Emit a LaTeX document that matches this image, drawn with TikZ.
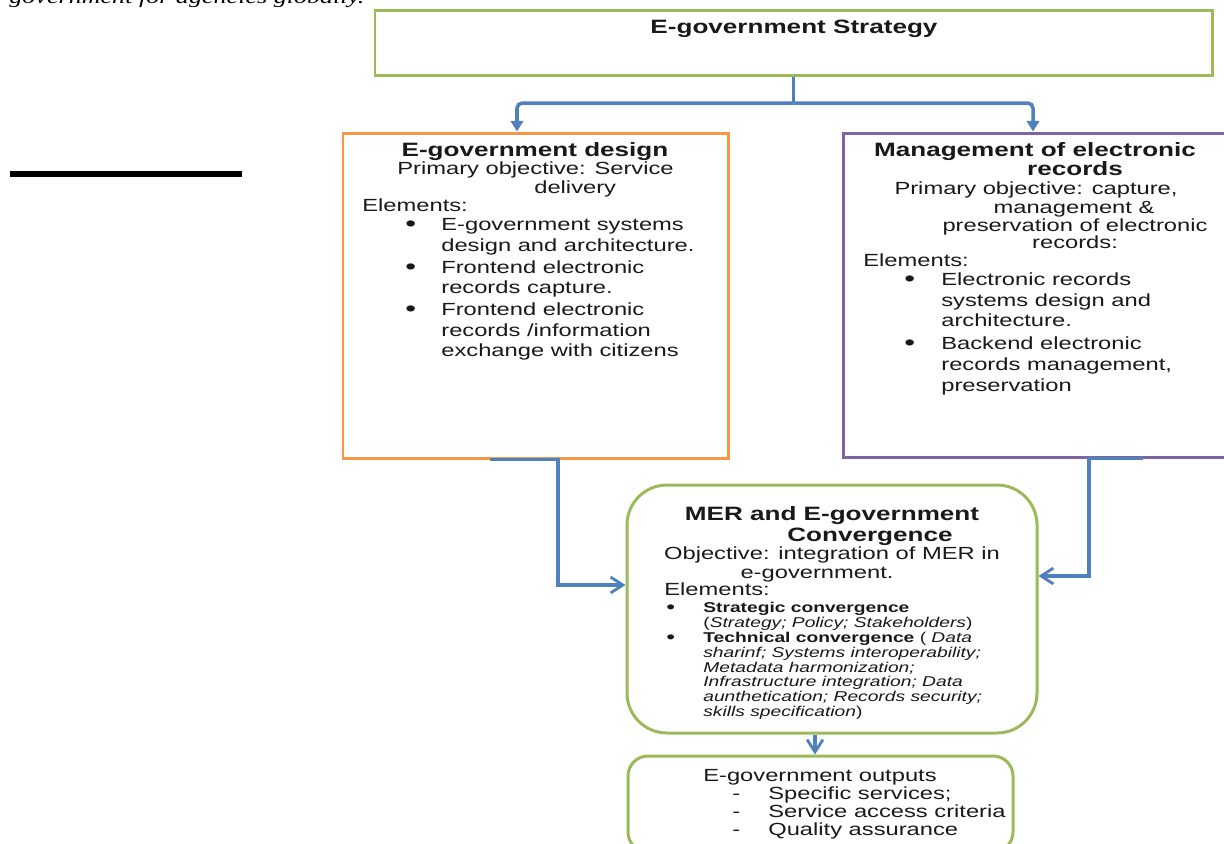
\documentclass[tikz,border=0pt]{standalone}
\usepackage{fontspec}
\setmainfont{Liberation Sans}[FakeStretch=1.35]
\newfontfamily\cutserif{Liberation Serif}[FakeStretch=1.35]
\usetikzlibrary{arrows.meta,fit,calc}

\definecolor{boxgreen}{RGB}{155,187,89}
\definecolor{boxorange}{RGB}{247,150,70}
\definecolor{boxpurple}{RGB}{128,100,162}
\definecolor{connblue}{RGB}{79,129,189}
\definecolor{txtcol}{RGB}{25,25,25}

\newcommand\Ctx[4]{\node[#1,anchor=base] (#2) at (#3) {#4};}
\newcommand\Ltx[4]{\node[#1,anchor=base west] (#2) at (#3) {#4};}
\newcommand\bul[1]{\makebox[#1][l]{\smash{\raisebox{-0.6pt}{\scalebox{1.3}{\textbullet}}}}}
\newcommand\dsh[1]{\makebox[#1][l]{-}}

\tikzset{
  frame/.style={draw, line width=1.7pt, inner sep=0pt},
  conn/.style={draw=connblue, line width=2pt},
  tfill/.style={-{Triangle[length=6pt,width=7pt]}},
  openv/.style={-{Straight Barb[length=7pt,width=9pt,line width=1.6pt]}},
  body/.style={inner sep=0pt, text=txtcol, font=\fontsize{10}{12}\selectfont},
  head/.style={inner sep=0pt, text=txtcol, font=\fontsize{11}{13}\selectfont\bfseries},
  small/.style={inner sep=0pt, text=txtcol, font=\fontsize{8.1}{9.5}\selectfont},
}

\begin{document}
\begin{tikzpicture}[x=0.02cm,y=-0.02cm]
\useasboundingbox (0,0) rectangle (1224,843);
\clip (0,0) rectangle (1224,843);
\fill[white] (0,0) rectangle (1224,843);

% cut-off text line at the top
\node[inner sep=0pt, anchor=base west, font=\cutserif\itshape\fontsize{11}{13}\selectfont] (cut) at (9,3) {government for agencies globally.};

% black rule at left
\draw[line width=3.3pt] (10,174) -- (242,174);

% boxes
\node[frame, draw=boxgreen, fit={(375,10) (1212,75)}] (strategy) {};
\node[frame, draw=boxorange, fit={(343,133) (728,458)}] (design) {};
\node[frame, draw=boxpurple, fit={(843,133) (1260,457)}] (records) {};
\node[frame, draw=boxgreen, rounded corners=0.8cm, fit={(627,485) (1037,733)}] (conv) {};
\node[frame, draw=boxgreen, rounded corners=0.4cm, fit={(628,756) (1013,852)}] (outputs) {};

% connectors
\coordinate (brL) at (517,103);
\coordinate (brR) at (1033,103);
\draw[conn] (strategy.south) -- (strategy.south |- brL);
\draw[conn, tfill, rounded corners=3pt] (strategy.south |- brL) -- (brL) -- (brL |- design.north);
\draw[conn, tfill, rounded corners=3pt] (strategy.south |- brR) -- (brR) -- (brR |- records.north);

\coordinate (dA) at (490,458);
\coordinate (dB) at (558,458);
\coordinate (dC) at (558,585);
\draw[conn, openv] (dA |- design.south) -- (dB |- design.south) -- (dC) -- (dC -| conv.west);

\coordinate (rA) at (1143,457);
\coordinate (rB) at (1089,457);
\coordinate (rC) at (1089,576);
\draw[conn, openv] (rA |- records.south) -- (rB |- records.south) -- (rC) -- (rC -| conv.east);

\coordinate (mX) at (815,0);
\draw[conn, openv] (mX |- conv.south) -- (mX |- outputs.north);

% top box text
\Ctx{head}{t1}{794,33}{E-government Strategy}

% left box text
\Ctx{head}{d1}{535,156}{E-government design}
\Ctx{body}{d2}{535.5,174}{Primary objective: Service}
\Ltx{body}{d3}{534,193}{delivery}
\Ltx{body}{d4}{362,211}{Elements:}
\Ltx{body}{d5}{405,230}{\bul{0.72cm}E-government systems}
\Ltx{body}{d6}{441,251}{design and architecture.}
\Ltx{body}{d7}{405,273}{\bul{0.72cm}Frontend electronic}
\Ltx{body}{d8}{441,293}{records capture.}
\Ltx{body}{d9}{405,315}{\bul{0.72cm}Frontend electronic}
\Ltx{body}{d10}{441,336}{records /information}
\Ltx{body}{d11}{441,356}{exchange with citizens}

% right box text
\Ctx{head}{r1}{1035,156}{Management of electronic}
\Ctx{head}{r2}{1075,175}{records}
\Ctx{body}{r3}{1036,194}{Primary objective: capture,}
\Ctx{body}{r4}{1074,213}{management \&}
\Ctx{body}{r5}{1075,231}{preservation of electronic}
\Ctx{body}{r6}{1075,248}{records:}
\Ltx{body}{r7}{863,266}{Elements:}
\Ltx{body}{r8}{904,285}{\bul{0.74cm}Electronic records}
\Ltx{body}{r9}{941,306}{systems design and}
\Ltx{body}{r10}{941,326}{architecture.}
\Ltx{body}{r11}{904,349}{\bul{0.74cm}Backend electronic}
\Ltx{body}{r12}{941,370}{records management,}
\Ltx{body}{r13}{941,391}{preservation}

% convergence box text
\Ctx{head}{c1}{832,520}{MER and E-government}
\Ctx{head}{c2}{870,541}{Convergence}
\Ctx{body}{c3}{832,559}{Objective: integration of MER in}
\Ctx{body}{c4}{817,578}{e-government.}
\Ltx{body}{c5}{664,595}{Elements:}
\Ltx{small}{c6}{666,612}{\bul{0.74cm}\textbf{Strategic convergence}}
\Ltx{small}{c7}{703,627}{(\textit{Strategy; Policy; Stakeholders})}
\Ltx{small}{c8}{666,642}{\bul{0.74cm}\textbf{Technical convergence} ( \textit{Data}}
\Ltx{small}{c9}{703,657}{\textit{sharinf; Systems interoperability;}}
\Ltx{small}{c10}{703,672}{\textit{Metadata harmonization;}}
\Ltx{small}{c11}{703,686}{\textit{Infrastructure integration; Data}}
\Ltx{small}{c12}{703,701}{\textit{aunthetication; Records security;}}
\Ltx{small}{c13}{703,716}{\textit{skills specification})}

% outputs box text
\Ctx{body}{o1}{820,781}{E-government outputs}
\Ltx{body}{o2}{732,799}{\dsh{0.72cm}Specific services;}
\Ltx{body}{o3}{732,817}{\dsh{0.72cm}Service access criteria}
\Ltx{body}{o4}{732,835}{\dsh{0.72cm}Quality assurance}
\end{tikzpicture}
\end{document}
